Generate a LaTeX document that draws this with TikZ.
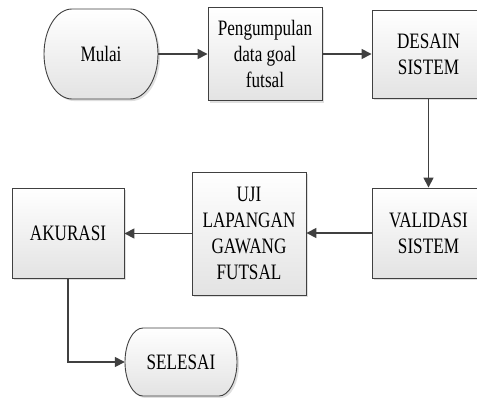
\documentclass[tikz,border=0pt]{standalone}
\usepackage{fontspec}
\setmainfont[FakeStretch=0.78]{Liberation Serif}
\usetikzlibrary{arrows.meta,shadows,calc}

% terminator outline: centre x, centre y, half width, half height, end radius
\newcommand\termshape[5]{%
  \path[termbox] (#1-#3+#5,#2-#4) -- (#1+#3-#5,#2-#4)
    arc[start angle=90,end angle=-90,x radius=#5pt,y radius=#4pt]
    -- (#1-#3+#5,#2+#4)
    arc[start angle=270,end angle=90,x radius=#5pt,y radius=#4pt] -- cycle;}

\begin{document}
\begin{tikzpicture}[x=1pt,y=-1pt,
  txt/.style={align=center, inner sep=0pt, font=\fontsize{22}{26}\selectfont, text=black},
  stepbox/.style={txt, draw=black!75, line width=0.9pt, top color=white, bottom color=black!11,
    drop shadow={shadow xshift=2pt, shadow yshift=-2pt, fill=black!25, opacity=0.5}},
  termbox/.style={draw=black!75, line width=0.9pt, top color=white, bottom color=black!11,
    drop shadow={shadow xshift=2pt, shadow yshift=-2pt, fill=black!25, opacity=0.5}},
  flow/.style={draw=black!75, line width=1.6pt, -{Triangle[length=10pt,width=10pt]}}]
\useasboundingbox (0,0) rectangle (477,397);

% start and end terminators
\termshape{101}{54}{57}{45}{28}
\node[txt, minimum width=114pt, minimum height=90pt] (mulai) at (101,54) {Mulai};
\termshape{181}{362}{56}{34}{18}
\node[txt, minimum width=112pt, minimum height=68pt] (selesai) at (181,362) {SELESAI};

% process steps
\node[stepbox, minimum width=114pt, minimum height=93pt] (peng) at (265,54)
  {Pengumpulan\\data goal\\futsal};
\node[stepbox, minimum width=113pt, minimum height=88pt] (desain) at (428.5,54)
  {DESAIN\\SISTEM};
\node[stepbox, minimum width=113pt, minimum height=90pt] (validasi) at (428.5,233)
  {VALIDASI\\SISTEM};
\node[stepbox, minimum width=114pt, minimum height=123pt] (uji) at (249,233.5)
  {UJI\\LAPANGAN\\GAWANG\\FUTSAL};
\node[stepbox, minimum width=112pt, minimum height=90pt] (akurasi) at (68,233)
  {AKURASI};

% connectors
\draw[flow] (mulai.east) -- (mulai.east -| peng.west);
\draw[flow] (peng.east) -- (peng.east -| desain.west);
\draw[flow] (desain.south) -- (validasi.north);
\draw[flow] (validasi.west) -- (validasi.west -| uji.east);
\draw[flow] (uji.west) -- (uji.west -| akurasi.east);
\draw[flow] (akurasi.south) |- (selesai.west);
\end{tikzpicture}
\end{document}
